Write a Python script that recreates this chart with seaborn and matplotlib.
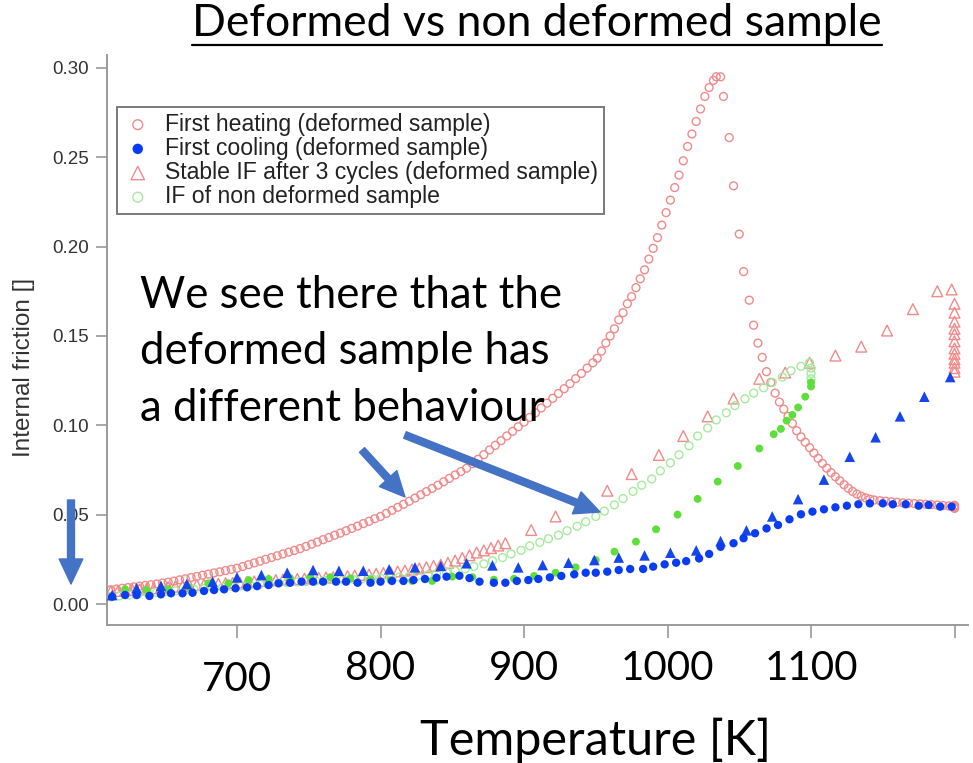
import numpy as np
import pandas as pd
import matplotlib
matplotlib.use("Agg")
import matplotlib.pyplot as plt
import matplotlib.transforms as mtransforms
from matplotlib.patches import FancyArrowPatch
from matplotlib.lines import Line2D
import seaborn as sns

# ---------------- data ----------------
heat_T = [612, 616, 620, 624, 628, 632, 636, 640, 644, 648,
          652, 656, 660, 664, 668, 672, 676, 680, 684, 688,
          692, 696, 700, 704, 708, 712, 716, 720, 724, 728,
          732, 736, 740, 744, 748, 752, 756, 760, 764, 768,
          772, 776, 780, 784, 788, 792, 796, 800, 804, 808,
          812, 816, 820, 824, 828, 832, 836, 840, 844, 848,
          852, 856, 860, 864, 868, 872, 876, 880, 884, 888,
          892, 896, 900, 904, 908, 912, 916, 920, 924, 928,
          932, 936, 940, 944, 948,
          951, 954, 957, 960, 963, 966, 969, 972, 975, 978,
          981, 984, 987, 990, 993, 996, 999, 1002, 1005, 1008,
          1011, 1014, 1017, 1020, 1023, 1026, 1029, 1032, 1034, 1037,
          1039, 1043, 1046, 1050, 1053, 1057, 1060, 1063, 1066, 1069,
          1072, 1075, 1078, 1081, 1084, 1087, 1090, 1093, 1096, 1099,
          1102, 1105, 1108, 1111, 1114, 1117, 1120, 1123, 1126, 1129,
          1132, 1135, 1138, 1141, 1144, 1148, 1152, 1156, 1160, 1164,
          1168, 1172, 1176, 1180, 1184, 1188, 1192, 1196, 1200, 1200,
          1200, 1200]
heat_IF = [.0080, .0084, .0088, .0092, .0096, .0100, .0104, .0108, .0112, .0117,
           .0122, .0128, .0135, .0141, .0148, .0154, .0161, .0167, .0174, .0180,
           .0187, .0194, .0200, .0210, .0220, .0230, .0240, .0250, .0260, .0270,
           .0280, .0290, .0300, .0310, .0322, .0335, .0347, .0360, .0372, .0385,
           .0397, .0410, .0423, .0436, .0450, .0463, .0477, .0490, .0507, .0524,
           .0541, .0558, .0575, .0593, .0611, .0629, .0647, .0665, .0684, .0703,
           .0722, .0741, .0760, .0785, .0810, .0836, .0862, .0888, .0914, .0940,
           .0966, .0992, .1018, .1044, .1070, .1097, .1124, .1151, .1178, .1205,
           .1233, .1261, .1290, .1320, .1350,
           .1375, .1415, .1460, .1500, .1540, .1590, .1630, .1680, .1720, .1770,
           .1820, .1870, .1930, .1990, .2050, .2120, .2190, .2260, .2330, .2400,
           .2480, .2560, .2630, .2700, .2770, .2840, .2890, .2930, .2950, .2950,
           .2840, .2610, .2340, .2070, .1860, .1700, .1560, .1460, .1380, .1300,
           .1240, .1180, .1130, .1090, .1050, .1010, .0970, .0935, .0905, .0875,
           .0845, .0815, .0787, .0760, .0735, .0712, .0690, .0668, .0648, .0630,
           .0615, .0603, .0594, .0587, .0582, .0578, .0575, .0572, .0569, .0566,
           .0564, .0562, .0560, .0558, .0556, .0554, .0551, .0549, .0546, .0540,
           .0535, .0552]

cool_T = [613, 622, 630, 639, 647, 654, 662, 669, 677, 684,
          691, 699, 707, 714, 722, 729, 737, 745, 753, 760,
          769, 776, 784, 793, 800, 808, 816, 823, 831, 839,
          846, 855, 862, 869, 879, 887, 895, 903, 910, 918,
          926, 935, 943, 950, 958, 966, 974, 983, 990, 998,
          1006, 1013, 1022, 1029, 1037, 1046, 1053, 1061, 1069, 1077,
          1085, 1093, 1101, 1109, 1117, 1125, 1133, 1141, 1150, 1157,
          1166, 1175, 1182, 1190, 1198]
cool_IF = [.0041, .0050, .0050, .0045, .0054, .0060, .0060, .0063, .0073, .0078,
           .0082, .0088, .0093, .0100, .0106, .0116, .0119, .0125, .0125, .0125,
           .0125, .0125, .0119, .0119, .0125, .0129, .0129, .0134, .0140, .0147,
           .0153, .0158, .0145, .0125, .0119, .0119, .0129, .0134, .0140, .0149,
           .0157, .0166, .0175, .0175, .0181, .0190, .0196, .0196, .0209, .0222,
           .0231, .0240, .0255, .0280, .0320, .0340, .0368, .0396, .0423, .0442,
           .0474, .0502, .0517, .0530, .0541, .0550, .0558, .0563, .0563, .0558,
           .0558, .0550, .0554, .0545, .0545]

stable_T = [612, 617, 622, 627, 632, 637, 642, 647, 652, 657,
            662, 667, 672, 677, 682, 687, 692, 697, 702, 707,
            712, 717, 722, 727, 732, 737, 742, 747, 752, 757,
            762, 767, 772, 777, 782, 787, 792, 797, 802, 807,
            812, 817, 822, 827, 832, 837, 842, 847, 852, 857,
            862, 867, 872, 877, 882, 887,
            905, 922, 940, 958, 975, 994, 1011, 1028, 1046, 1064,
            1082, 1099, 1117, 1135, 1153, 1171, 1188, 1198,
            1200, 1200, 1200, 1200, 1200, 1200, 1200, 1200, 1200, 1200,
            1200, 1200]
stable_IF = [.0070, .0073, .0076, .0079, .0082, .0085, .0088, .0091, .0094, .0097,
             .0100, .0103, .0106, .0108, .0110, .0113, .0116, .0118, .0120, .0123,
             .0126, .0129, .0132, .0134, .0136, .0138, .0140, .0142, .0144, .0146,
             .0148, .0150, .0153, .0156, .0159, .0162, .0165, .0169, .0173, .0177,
             .0182, .0187, .0193, .0199, .0206, .0213, .0220, .0230, .0243, .0258,
             .0273, .0288, .0300, .0313, .0327, .0340,
             .0414, .0490, .0560, .0634, .0727, .0834, .0940, .1050, .1150, .1260,
             .1295, .1350, .1390, .1440, .1530, .1650, .1750, .1760,
             .1680, .1630, .1580, .1540, .1510, .1470, .1430, .1400, .1370, .1350,
             .1320, .1300]

nondef_T = [612, 618, 625, 631, 638, 644, 651, 657, 664, 670,
            677, 683, 690, 696, 703, 709, 716, 722, 729, 735,
            742, 748, 755, 761, 768, 774, 781, 787, 794, 800,
            807, 813, 820, 826, 833, 839, 846, 852, 859, 865,
            872, 878, 885, 891, 898, 904, 911, 917, 924, 930,
            937, 943, 950, 956, 963, 969, 976, 982, 989, 995,
            1002, 1008, 1015, 1021, 1028, 1034, 1041, 1047, 1054, 1060,
            1067, 1073, 1080, 1086, 1093, 1099, 1100, 1100, 1100]
nondef_IF = [.0040, .0045, .0050, .0055, .0060, .0065, .0070, .0074, .0078, .0082,
             .0086, .0090, .0094, .0098, .0102, .0106, .0110, .0114, .0117, .0120,
             .0123, .0126, .0129, .0132, .0134, .0136, .0138, .0140, .0142, .0144,
             .0147, .0150, .0154, .0158, .0163, .0169, .0177, .0186, .0197, .0210,
             .0225, .0242, .0260, .0280, .0300, .0325, .0345, .0365, .0385, .0410,
             .0435, .0460, .0490, .0520, .0555, .0590, .0630, .0665, .0700, .0745,
             .0790, .0835, .0885, .0940, .0985, .1030, .1070, .1110, .1148, .1180,
             .1210, .1240, .1270, .1305, .1330, .1350, .1320, .1290, .1260]

nondef_cool_T = [622, 637, 652, 666, 680, 694, 708, 722, 737, 751,
                 765, 779, 793, 807, 822, 836, 850, 864, 879, 893,
                 907, 922, 936, 950, 963, 978, 992, 1007, 1021, 1035,
                 1049, 1064, 1074, 1079, 1083, 1087, 1091, 1096, 1100, 1100]
nondef_cool_IF = [.0083, .0078, .0083, .0095, .0116, .0116, .0134, .0140, .0145, .0150,
                  .0150, .0144, .0138, .0134, .0129, .0129, .0153, .0150, .0136, .0141,
                  .0157, .0175, .0205, .0246, .0293, .0349, .0418, .0500, .0588, .0685,
                  .0772, .0870, .0950, .0980, .1026, .1058, .1100, .1160, .1217, .1240]

tri_T = [613, 630, 647, 665, 683, 700, 717, 735, 753, 771,
         788, 806, 824, 842, 860, 878, 896, 913, 931, 949,
         966, 984, 1002, 1020, 1037, 1055, 1073, 1091, 1109, 1127,
         1145, 1162, 1179, 1197]
tri_IF = [.0050, .0088, .0101, .0112, .0125, .0149, .0162, .0175, .0190, .0186,
          .0186, .0194, .0205, .0213, .0228, .0216, .0205, .0218, .0231, .0246,
          .0260, .0272, .0287, .0300, .0352, .0412, .0490, .0587, .0696, .0824,
          .0933, .1050, .1160, .1270]

legend_labels = ["First heating (deformed sample)",
                 "First cooling (deformed sample)",
                 "Stable IF after 3 cycles (deformed sample)",
                 "IF of non deformed sample"]
x_ticks = [700, 800, 900, 1000, 1100, 1200]
x_ticklabels = ["700", "800", "900", "1000", "1100", ""]
y_ticks = [0.00, 0.05, 0.10, 0.15, 0.20, 0.25, 0.30]

# ---------------- style ----------------
sns.set_theme(style="white")
plt.rcParams["font.family"] = ["Liberation Sans", "DejaVu Sans"]

RED = "#f28a8a"
BLUE = "#0a3cf2"
GREEN_OPEN = "#a4ec9c"
GREEN_DOT = "#5ede38"
BLUE_TRI = "#1446ea"
ARROW = "#4472c4"
BIG = ["Lato", "DejaVu Sans"]

fig = plt.figure(figsize=(9.73, 7.63), dpi=100)
ax = fig.add_axes([107 / 973, 138 / 763, 861 / 973, 570 / 763])

sns.scatterplot(x=heat_T, y=heat_IF, ax=ax, marker="o", s=32,
                facecolor="none", edgecolor=RED, linewidth=1.0,
                label=legend_labels[0], zorder=2)
sns.scatterplot(x=stable_T, y=stable_IF, ax=ax, marker="^", s=60,
                facecolor="none", edgecolor=RED, linewidth=1.0,
                label=legend_labels[2], zorder=2)
sns.scatterplot(x=nondef_T, y=nondef_IF, ax=ax, marker="o", s=32,
                facecolor="none", edgecolor=GREEN_OPEN, linewidth=1.0,
                label=legend_labels[3], zorder=2)
sns.scatterplot(x=nondef_cool_T, y=nondef_cool_IF, ax=ax, marker="o", s=32,
                color=GREEN_DOT, edgecolor="none", zorder=3)
sns.scatterplot(x=tri_T, y=tri_IF, ax=ax, marker="^", s=58,
                color=BLUE_TRI, edgecolor="none", zorder=3)
sns.scatterplot(x=cool_T, y=cool_IF, ax=ax, marker="o", s=36,
                color=BLUE, edgecolor="none", label=legend_labels[1], zorder=4)

ax.set_xlim(609.4, 1209.4)
ax.set_ylim(-0.01175, 0.3072)

for side in ["top", "right"]:
    ax.spines[side].set_visible(False)
for side in ["left", "bottom"]:
    ax.spines[side].set_color("#9a9a9a")
    ax.spines[side].set_linewidth(1.4)

ax.set_yticks(y_ticks)
ax.set_yticklabels([f"{v:.2f}" for v in y_ticks])
ax.set_xticks(x_ticks)
ax.set_xticklabels(x_ticklabels)
ax.tick_params(axis="y", direction="out", length=8, width=1.2, color="#9a9a9a",
               labelsize=13.5, labelcolor="#333333", pad=5, left=True)
ax.tick_params(axis="x", direction="out", length=9, width=1.2, color="#9a9a9a",
               labelsize=29, labelcolor="black", pad=9, bottom=True)
xlbls = ax.get_xticklabels()
for lbl in xlbls:
    lbl.set_fontfamily(BIG)
# the "700" label sits a little lower in the reference
xlbls[0].set_transform(xlbls[0].get_transform() +
                       mtransforms.ScaledTranslation(0, -0.11, fig.dpi_scale_trans))
ax.grid(False)

ax.set_ylabel("Internal friction []", fontsize=17.5, color="#333333")
ax.yaxis.set_label_coords(-0.0836, 0.451)
ax.set_xlabel("Temperature [K]", fontsize=35, family=BIG, color="black", va="center")
ax.xaxis.set_label_coords(0.567, -0.2018)

# legend
h, l = ax.get_legend_handles_labels()
order = [l.index(lab) for lab in legend_labels]
leg = ax.legend([h[i] for i in order], [l[i] for i in order],
                loc="upper left", bbox_to_anchor=(117 / 973, 1 - 107 / 763),
                bbox_transform=fig.transFigure, frameon=True, fancybox=False,
                edgecolor="#7a7a7a", fontsize=16.6, handletextpad=0.55,
                borderpad=0.25, labelspacing=0.05, borderaxespad=0,
                handlelength=1.3, scatterpoints=1, framealpha=1, markerscale=1.25)
leg.get_frame().set_linewidth(1.4)
for t in leg.get_texts():
    t.set_color("#222222")

# title with underline
title = fig.text(537 / 973, 1 - 23 / 763, "Deformed vs non deformed sample",
                 ha="center", va="center", fontsize=32, family=BIG, color="black")

# annotation text
fig.text(140 / 973, 1 - 352 / 763,
         "We see there that the\ndeformed sample has\na different behaviour",
         ha="left", va="center", fontsize=31.5, family=BIG, color="black",
         linespacing=1.47)

# arrows (figure pixel positions)
def px(x, y):
    return (x / 973, 1 - y / 763)

for (a, b) in [((362, 450), (405, 497)), ((405, 435), (600, 512)), ((71, 500), (71, 584))]:
    arr = FancyArrowPatch(px(*a), px(*b), transform=fig.transFigure,
                          arrowstyle="simple,head_length=0.9,head_width=0.85,tail_width=0.25",
                          mutation_scale=20, color=ARROW, shrinkA=0, shrinkB=0, zorder=10)
    fig.add_artist(arr)

fig.canvas.draw()
r = fig.canvas.get_renderer()
bb = title.get_window_extent(r)
H = fig.bbox.height
W = fig.bbox.width
y_line = (bb.y0 - 1) / H
fig.add_artist(Line2D([bb.x0 / W, bb.x1 / W], [y_line, y_line], transform=fig.transFigure,
                      color="black", linewidth=1.6))

fig.savefig("out.png", dpi=100, facecolor="white")
